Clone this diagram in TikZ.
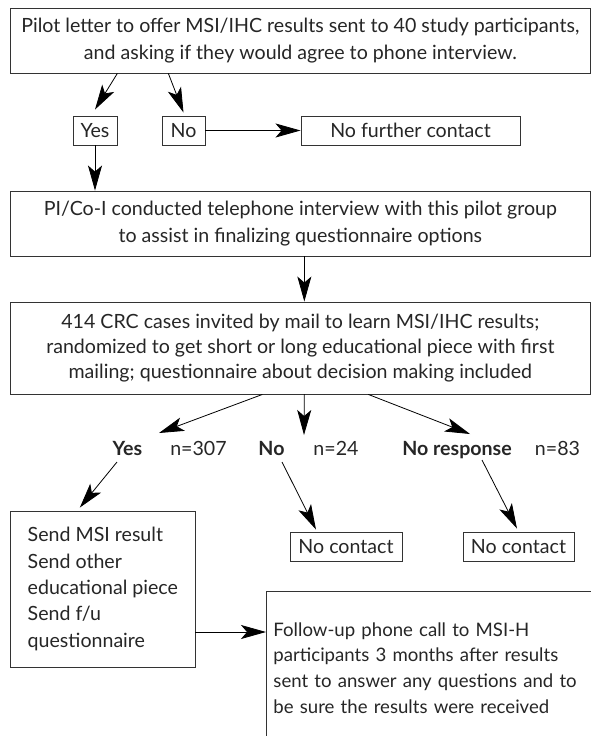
\documentclass[tikz,border=0pt]{standalone}
\usepackage{fontspec}
\setmainfont{Lato}
\usetikzlibrary{arrows.meta}
\newcommand\fs{\fontsize{19.6}{26.5}\selectfont}
\begin{document}
\begin{tikzpicture}[x=1pt,y=-1pt,
  box/.style={draw=black!80, line width=0.9pt, inner sep=0pt, align=center, font=\fs, text=black!85},
  lab/.style={inner sep=0pt, font=\fs, text=black!85, anchor=base},
  arr/.style={draw=black, line width=0.8pt, -{Stealth[length=25pt,width=14pt,inset=6pt]}}
]
\useasboundingbox (0,0) rectangle (591,736);
\clip (0,0) rectangle (591,736);
\fill[white] (0,0) rectangle (591,736);

\node[box, minimum width=579.3pt, minimum height=65pt] (b1) at (300.35,40.5)
  {Pilot letter to offer MSI/IHC results sent to 40 study participants,\\ and asking if they would agree to phone interview.};
\node[box, minimum width=44pt, minimum height=29pt] (yes1) at (95,130.5) {Yes};
\node[box, minimum width=43pt, minimum height=29pt] (no1) at (183.5,130.5) {No};
\node[box, minimum width=219pt, minimum height=29pt] (nfc) at (410.5,130.5) {No further contact};
\node[box, minimum width=579.3pt, minimum height=65pt] (b2) at (300.35,223.5)
  {PI/Co-I conducted telephone interview with this pilot group\\ to assist in finalizing questionnaire options};
\node[box, minimum width=579.3pt, minimum height=92pt, font=\fontsize{19.6}{25}\selectfont] (b3) at (300.35,348)
  {414 CRC cases invited by mail to learn MSI/IHC results;\\ randomized to get short or long educational piece with first\\ mailing; questionnaire about decision making included};

\node[lab] (yes2) at (127.5,455) {\textbf{Yes}};
\node[lab] (n307) at (198.5,455) {n=307};
\node[lab] (no2) at (271.5,455) {\textbf{No}};
\node[lab] (n24) at (336,455) {n=24};
\node[lab] (nr) at (457,455) {\textbf{No response}};
\node[lab] (n83) at (557.5,455) {n=83};

\node[box, minimum width=184.3pt, minimum height=156pt, align=left, font=\fontsize{19.6}{26.3}\selectfont] (send) at (102.85,589)
  {Send MSI result\\ Send other\\ educational piece\\ Send f/u\\ questionnaire};
\node[box, minimum width=112pt, minimum height=29pt] (nc1) at (346,546.5) {No contact};
\node[box, minimum width=111pt, minimum height=29pt] (nc2) at (518.5,546.5) {No contact};
\node[box, anchor=north west, inner xsep=7pt, text width=346pt, minimum width=360pt, minimum height=153pt, align=left, font=\fontsize{18.6}{25.7}\selectfont] (fu) at (266,591)
  {Follow-up phone call to MSI-H\\ participants 3 months after results\\ sent to answer any questions and to\\ be sure the results were received};

\draw[arr] ([xshift=-183pt]b1.south) -- ([yshift=6pt]yes1.north);
\draw[arr] ([xshift=-132pt]b1.south) -- ([yshift=3pt]no1.north);
\draw[arr] (no1.east) -- (nfc.west);
\draw[arr] (yes1.south) -- (yes1.south |- b2.north);
\draw[arr] ([xshift=4pt]b2.south) -- ([xshift=4pt]b3.north);
\draw[arr] ([xshift=-38pt]b3.south) -- ([xshift=31.5pt,yshift=22pt]yes2.base);
\draw[arr] ([xshift=4pt]b3.south) -- ([xshift=32.5pt,yshift=20pt]no2.base);
\draw[arr] ([xshift=68pt]b3.south) -- ([xshift=13pt,yshift=21pt]nr.base);
\draw[arr] ([xshift=-10.5pt,yshift=-7pt]yes2.base) -- ([xshift=-23pt,yshift=3pt]send.north);
\draw[arr] ([xshift=10.5pt,yshift=-7pt]no2.base) -- ([xshift=-30pt,yshift=2pt]nc1.north);
\draw[arr] ([xshift=25pt,yshift=-5pt]nr.base) -- ([xshift=-1.5pt,yshift=3pt]nc2.north);
\draw[arr] ([yshift=-43pt]send.east) -- ([yshift=-43pt]send.east -| fu.west);
\end{tikzpicture}
\end{document}
